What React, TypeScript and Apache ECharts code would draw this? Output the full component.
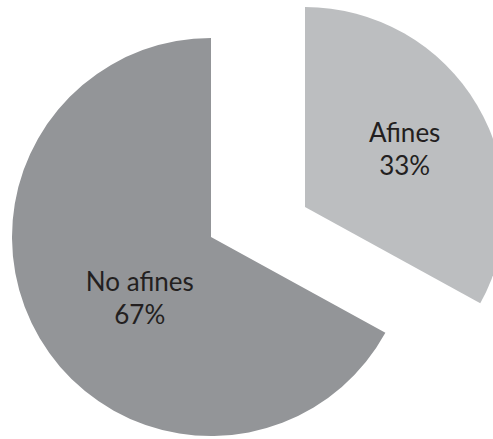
import React, { useEffect, useRef } from "react";
import * as echarts from "echarts";

const categories = ["Afines", "No afines"];
const values = [33, 67];
const colors = ["#bcbec0", "#939598"];

export default function App() {
  const ref = useRef<HTMLDivElement>(null);
  useEffect(() => {
    const chart = echarts.init(ref.current!, null, { renderer: "svg" });
    const labelBase = {
      show: true,
      position: "inside",
      formatter: "{b}\n{d}%",
      fontFamily: "Lato",
      fontSize: 26,
      lineHeight: 33,
      color: "#231f20",
    };
    const makeData = (visibleIndex: number) =>
      categories.map((name, i) => ({
        name,
        value: values[i],
        itemStyle: { color: i === visibleIndex ? colors[i] : "rgba(0,0,0,0)" },
        label: { show: i === visibleIndex },
      }));
    chart.setOption({
      animation: false,
      series: [
        {
          type: "pie",
          center: [305, 207],
          radius: 200,
          startAngle: 90,
          clockwise: true,
          silent: true,
          label: labelBase,
          labelLine: { show: false },
          labelLayout: { dx: 11, dy: -6 },
          itemStyle: { borderWidth: 0 },
          data: makeData(0),
        },
        {
          type: "pie",
          center: [211, 237],
          radius: 199,
          startAngle: 90,
          clockwise: true,
          silent: true,
          label: labelBase,
          labelLine: { show: false },
          labelLayout: { dx: 17, dy: 8 },
          itemStyle: { borderWidth: 0 },
          data: makeData(1),
        },
      ],
    });
    return () => chart.dispose();
  }, []);
  return (
    <div
      ref={ref}
      style={{ position: "fixed", left: 0, top: 0, width: 493, height: 439, background: "#ffffff" }}
    />
  );
}
